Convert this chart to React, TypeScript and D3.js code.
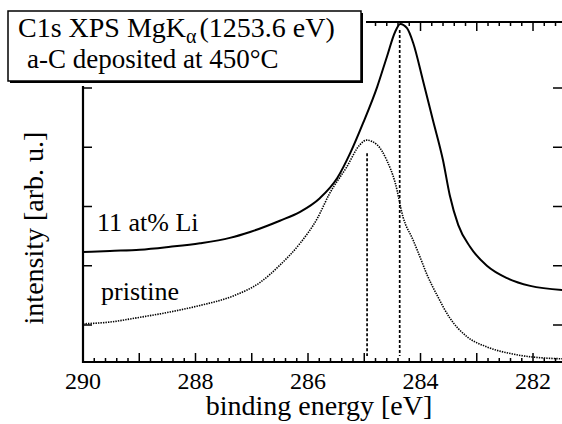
import React from "react";
import * as d3 from "d3";

// binding energy [eV] and intensity [arb. u.] for 11 at% Li
const energyLi = [290.0, 289.52, 288.99, 288.45, 287.92, 287.39, 287.03, 286.5, 286.14, 285.79, 285.48, 285.25, 285.02, 284.77, 284.6, 284.45, 284.36, 284.24, 284.13, 283.96, 283.78, 283.6, 283.48, 283.33, 283.12, 282.82, 282.46, 282.05, 281.48];
const intensityLi = [2.23, 2.25, 2.27, 2.32, 2.38, 2.47, 2.57, 2.76, 2.91, 3.14, 3.48, 3.9, 4.41, 5.02, 5.52, 5.95, 6.08, 6.01, 5.76, 5.14, 4.46, 3.78, 3.19, 2.69, 2.32, 2.0, 1.79, 1.66, 1.59];

// pristine
const energyPristine = [290.0, 289.52, 288.99, 288.45, 287.92, 287.33, 286.85, 286.5, 286.14, 285.84, 285.61, 285.31, 285.08, 284.96, 284.77, 284.6, 284.45, 284.31, 284.13, 284.01, 283.88, 283.71, 283.48, 283.17, 282.82, 282.36, 281.75, 281.48];
const intensityPristine = [1.02, 1.05, 1.13, 1.22, 1.33, 1.49, 1.72, 2.01, 2.38, 2.79, 3.23, 3.67, 4.04, 4.12, 4.04, 3.78, 3.4, 2.82, 2.43, 2.15, 1.84, 1.51, 1.12, 0.8, 0.63, 0.51, 0.44, 0.43];

// peak marker lines
const peakEnergies = [284.95, 284.37];
const peakTops = [3.9, 5.98];

const xTickLabels = [290, 288, 286, 284, 282];
const yTicks = [1, 2, 3, 4, 5];

const W = 562;
const H = 424;
const left = 83;
const right = 563;
const top = 22;
const bottom = 362;

const FONT = "Liberation Serif, Times New Roman, DejaVu Serif, serif";
const tStyle = { fontFamily: FONT };

export default function App() {
  const x = d3.scaleLinear().domain([290, 281.467]).range([left, right]);
  const y = d3.scaleLinear().domain([0.3755, 6.114]).range([bottom, top]);

  const line = d3
    .line<[number, number]>()
    .x((d) => x(d[0]))
    .y((d) => y(d[1]))
    .curve(d3.curveMonotoneX);

  const liPath = line(energyLi.map((e, i) => [e, intensityLi[i]]) as [number, number][]) || "";
  const prPath = line(energyPristine.map((e, i) => [e, intensityPristine[i]]) as [number, number][]) || "";

  const minor = d3.range(0, 44).map((i) => +(290 - i * 0.2).toFixed(1)).filter((v) => v >= 281.46);

  return (
    <svg
      width={W}
      height={H}
      style={{ position: "absolute", left: 0, top: 0, background: "#fff", fontFamily: FONT }}
    >
      <rect x={0} y={0} width={W} height={H} fill="#fff" />
      {/* curves */}
      <path d={prPath} fill="none" stroke="#000" strokeWidth={1.6} strokeDasharray="1.4,1.1" />
      <path d={liPath} fill="none" stroke="#000" strokeWidth={2} />
      {peakEnergies.map((e, i) => (
        <line
          key={"pk" + i}
          x1={x(e)}
          x2={x(e)}
          y1={y(peakTops[i])}
          y2={bottom - 6}
          stroke="#000"
          strokeWidth={1.7}
          strokeDasharray="3,2"
        />
      ))}
      {/* axes frame */}
      <line x1={left} x2={right} y1={bottom} y2={bottom} stroke="#000" strokeWidth={2.2} />
      <line x1={left} x2={right} y1={top} y2={top} stroke="#000" strokeWidth={2} />
      <line x1={left} x2={left} y1={top} y2={bottom + 1} stroke="#000" strokeWidth={2.2} />
      <line x1={right} x2={right} y1={top} y2={bottom} stroke="#000" strokeWidth={2} />
      {minor.map((v) => {
        const isMajor = Math.abs(v - Math.round(v)) < 1e-6;
        const len = isMajor ? 9 : 4;
        return (
          <g key={"xt" + v}>
            <line x1={x(v)} x2={x(v)} y1={bottom} y2={bottom - len} stroke="#000" strokeWidth={1.5} />
            <line x1={x(v)} x2={x(v)} y1={top} y2={top + len} stroke="#000" strokeWidth={1.5} />
          </g>
        );
      })}
      {yTicks.map((v) => (
        <g key={"yt" + v}>
          <line x1={left} x2={left + 9} y1={y(v)} y2={y(v)} stroke="#000" strokeWidth={1.5} />
          <line x1={right} x2={right - 10} y1={y(v)} y2={y(v)} stroke="#000" strokeWidth={1.5} />
        </g>
      ))}
      {xTickLabels.map((v) => (
        <text key={"xl" + v} x={x(v)} y={389} fontSize={24} textAnchor="middle" style={tStyle}>
          {v}
        </text>
      ))}
      <text x={319} y={415} fontSize={28} textAnchor="middle" style={tStyle}>
        binding energy [eV]
      </text>
      <text transform="translate(43,228) rotate(-90)" fontSize={28} textAnchor="middle" style={tStyle}>
        intensity [arb. u.]
      </text>
      <text x={97} y={231} fontSize={26} style={tStyle}>
        11 at% Li
      </text>
      <text x={101} y={300} fontSize={26} style={tStyle}>
        pristine
      </text>
      {/* title box */}
      <rect x={0} y={0} width={366} height={86} fill="#fff" />
      <rect x={10} y={13} width={353} height={70} fill="#000" />
      <rect x={8} y={11} width={353} height={70} fill="#fff" stroke="#000" strokeWidth={1.5} />
      <text x={18} y={37} fontSize={28} style={tStyle}>
        C1s XPS MgK
        <tspan fontSize={20} dy={6}>α</tspan>
        <tspan dx={3} dy={-6}>(1253.6 eV)</tspan>
      </text>
      <text x={27} y={68} fontSize={27} style={tStyle}>
        a-C deposited at 450°C
      </text>
    </svg>
  );
}
